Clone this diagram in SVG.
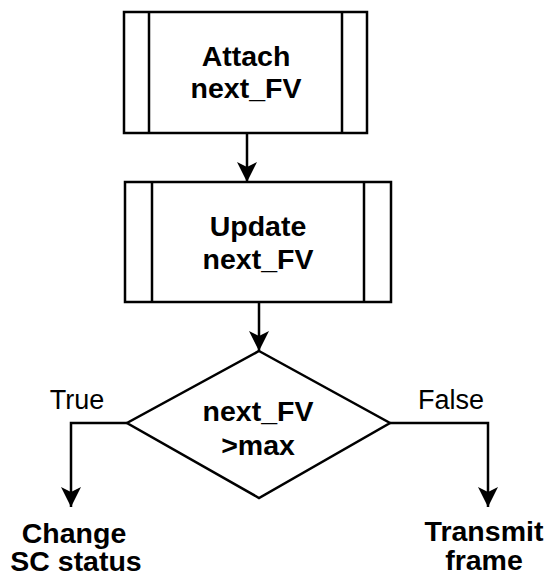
<svg xmlns="http://www.w3.org/2000/svg" width="547" height="574" viewBox="0 0 547 574">
<style>
.box{fill:#fff;stroke:#000;stroke-width:2.5}
.edge{fill:none;stroke:#000;stroke-width:2.5}
.b{font-family:"Liberation Sans",Arial,sans-serif;font-weight:bold;font-size:28.5px;text-anchor:middle;fill:#000}
.l{font-family:"Liberation Sans",Arial,sans-serif;font-size:27px;text-anchor:middle;fill:#000}
</style>
<defs>
<marker id="ah" viewBox="0 0 20 20" refX="20" refY="10" markerWidth="20" markerHeight="20" markerUnits="userSpaceOnUse" orient="auto">
<path d="M0,0 L20,10 L0,20 L5,10 Z" fill="#000"/>
</marker>
</defs>
<rect width="547" height="574" fill="#fff"/>
<g id="connectors">
<path class="edge" d="M247,133 V182" marker-end="url(#ah)"/>
<path class="edge" d="M259,302 V351" marker-end="url(#ah)"/>
<path class="edge" d="M127,423 H71 V507" marker-end="url(#ah)"/>
<path class="edge" d="M390,423 H488 V507" marker-end="url(#ah)"/>
<text class="l" x="77" y="409">True</text>
<text class="l" x="451" y="409">False</text>
</g>
<g id="attach">
<rect class="box" x="124" y="12" width="243" height="121"/>
<line class="box" x1="149" y1="12" x2="149" y2="133"/>
<line class="box" x1="342" y1="12" x2="342" y2="133"/>
<text class="b" x="246" y="66">Attach</text>
<text class="b" x="246" y="98">next_FV</text>
</g>
<g id="update">
<rect class="box" x="125" y="182" width="266" height="120"/>
<line class="box" x1="152" y1="182" x2="152" y2="302"/>
<line class="box" x1="364" y1="182" x2="364" y2="302"/>
<text class="b" x="258" y="236">Update</text>
<text class="b" x="258" y="269">next_FV</text>
</g>
<g id="decision">
<polygon class="box" points="259,351 390,423 259,498 127,423"/>
<text class="b" x="258" y="421">next_FV</text>
<text class="b" x="258" y="455">&gt;max</text>
</g>
<g id="change">
<text class="b" x="74" y="543">Change</text>
<text class="b" x="76" y="571">SC status</text>
</g>
<g id="transmit">
<text class="b" x="484" y="541">Transmit</text>
<text class="b" x="484" y="570">frame</text>
</g>
</svg>
